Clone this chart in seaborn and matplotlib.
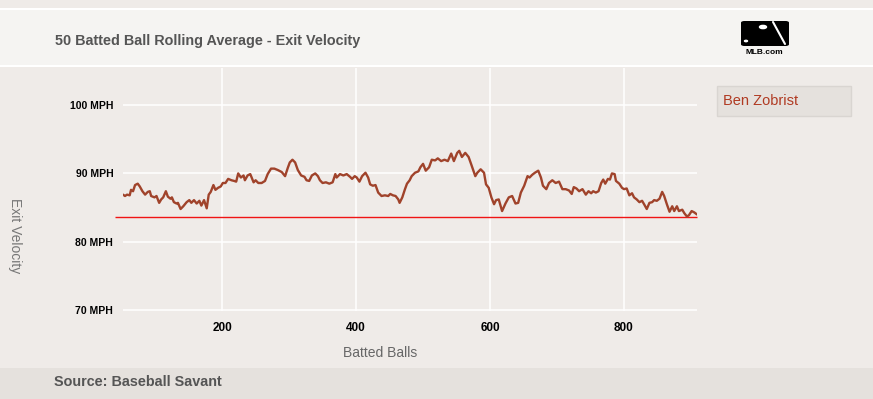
import pandas as pd
import matplotlib
matplotlib.use("Agg")
import matplotlib.pyplot as plt
import seaborn as sns
from matplotlib.patches import Rectangle, FancyBboxPatch, Circle
from matplotlib.lines import Line2D

# rolling 50 batted ball average
balls = [
    52, 55, 58, 62, 64, 67, 70, 74, 77, 81,
    85, 89, 92, 94, 99, 102, 106, 109, 112, 116,
    119, 123, 125, 128, 132, 134, 138, 142, 147, 151,
    154, 158, 162, 166, 169, 173, 177, 180, 183, 187,
    190, 194, 198, 201, 205, 209, 214, 218, 221, 224,
    228, 232, 234, 238, 242, 247, 250, 254, 259, 264,
    268, 273, 278, 283, 289, 294, 298, 301, 305, 309,
    313, 318, 323, 326, 330, 334, 339, 343, 346, 350,
    355, 360, 365, 369, 371, 376, 381, 386, 391, 394,
    398, 401, 405, 409, 414, 418, 421, 425, 429, 433,
    438, 443, 448, 451, 455, 459, 463, 465, 469, 473,
    476, 480, 483, 488, 493, 496, 500, 504, 509, 513,
    518, 522, 527, 532, 537, 542, 546, 551, 554, 558,
    563, 568, 572, 578, 581, 586, 591, 594, 598, 602,
    606, 609, 613, 618, 623, 628, 633, 638, 642, 646,
    651, 656, 659, 663, 667, 672, 676, 679, 684, 688,
    693, 698, 703, 708, 713, 718, 722, 725, 729, 733,
    738, 743, 747, 751, 754, 758, 762, 766, 769, 772,
    776, 779, 782, 786, 788, 793, 797, 800, 804, 808,
    812, 815, 819, 823, 827, 830, 834, 838, 842, 845,
    849, 853, 857, 860, 864, 868, 872, 875, 879, 882,
    887, 890, 894, 897, 901, 905, 909,
]
exit_velo = [
    86.9, 86.7, 86.9, 86.8, 87.6, 87.4, 88.3, 88.5, 88.1, 87.4,
    86.9, 87.3, 87.4, 86.7, 86.5, 86.7, 85.7, 86.2, 86.5, 87.4,
    86.6, 86.3, 86.5, 85.8, 85.6, 85.7, 84.8, 85.2, 85.8, 86.1,
    85.7, 86.1, 85.6, 86.0, 85.3, 86.1, 84.9, 86.9, 87.3, 88.3,
    87.6, 87.9, 88.1, 88.6, 88.6, 89.2, 89.0, 88.9, 88.8, 90.0,
    89.4, 89.7, 89.0, 89.7, 89.9, 88.7, 89.0, 88.6, 88.6, 88.9,
    89.9, 90.7, 90.7, 90.5, 90.2, 89.6, 90.8, 91.6, 92.0, 91.6,
    90.5, 89.7, 89.5, 89.0, 88.9, 89.7, 90.0, 89.6, 89.0, 88.6,
    88.7, 88.5, 88.7, 89.9, 89.4, 89.9, 89.7, 89.9, 89.5, 89.2,
    89.6, 89.4, 88.8, 89.6, 90.1, 89.4, 88.4, 88.2, 88.3, 87.2,
    86.7, 86.8, 86.7, 87.0, 86.8, 86.7, 86.2, 85.7, 86.5, 87.7,
    88.5, 89.0, 89.6, 90.1, 90.3, 90.9, 91.4, 90.4, 90.9, 92.0,
    91.9, 92.2, 91.8, 92.0, 91.8, 92.9, 91.8, 93.0, 93.3, 92.4,
    93.0, 92.4, 91.3, 89.6, 90.1, 90.6, 90.1, 88.4, 87.9, 86.5,
    85.5, 86.1, 86.2, 84.5, 85.6, 86.5, 86.7, 85.6, 85.7, 87.2,
    88.2, 89.6, 89.4, 89.8, 90.1, 90.4, 89.4, 88.2, 87.7, 88.6,
    89.0, 88.6, 88.8, 87.7, 87.7, 87.5, 87.0, 88.0, 87.8, 87.4,
    87.7, 86.9, 87.4, 87.1, 87.4, 87.2, 87.4, 88.6, 89.1, 88.5,
    89.2, 89.1, 90.0, 89.9, 88.9, 88.5, 87.9, 87.7, 87.8, 86.8,
    87.1, 86.5, 86.2, 85.8, 86.0, 85.5, 84.8, 85.7, 85.8, 86.1,
    86.0, 86.3, 87.3, 86.7, 85.5, 84.4, 85.2, 84.5, 85.2, 84.5,
    84.7, 84.2, 83.7, 83.9, 84.5, 84.3, 84.0,
]
league_avg = 83.6
player = "Ben Zobrist"
x_ticks = [200, 400, 600, 800]
y_ticks = [70, 80, 90, 100]
y_tick_labels = ["70 MPH", "80 MPH", "90 MPH", "100 MPH"]

sns.set_theme(style="white")
plt.rcParams["font.family"] = ["Liberation Sans", "DejaVu Sans"]

df = pd.DataFrame({"Batted Balls": balls, "Exit Velocity": exit_velo})

W, H = 873, 399
fig = plt.figure(figsize=(W / 100, H / 100), dpi=100)
fig.patch.set_facecolor("#efebe8")

# header and footer bands
fig.patches.append(Rectangle((-0.01, 1 - 66 / H), 1.02, 57 / H, transform=fig.transFigure,
                             facecolor="#f5f4f2", edgecolor="white", lw=1.5, zorder=0))
fig.patches.append(Rectangle((0, 0), 1, 31 / H, transform=fig.transFigure,
                             facecolor="#e5e1dd", edgecolor="none", zorder=0))

ax = fig.add_axes([123 / W, 1 - 311 / H, (697 - 123) / W, (311 - 68) / H])
ax.set_facecolor("#efebe8")

sns.lineplot(data=df, x="Batted Balls", y="Exit Velocity", ax=ax,
             color="#a0432b", lw=1.7, zorder=3)
ax.hlines(league_avg, 40, 909, colors="#f01414", lw=1.0, clip_on=False, zorder=2)

ax.set_xlim(52, 909)
ax.set_ylim(69.9, 105.4)
ax.set_xticks(x_ticks)
ax.set_yticks(y_ticks, y_tick_labels)
ax.grid(True, color="white", lw=1.1)
ax.set_axisbelow(True)
for s in ax.spines.values():
    s.set_visible(False)
ax.tick_params(axis="both", length=0)
ax.tick_params(axis="y", pad=7, labelsize=7.5, labelcolor="black")
ax.tick_params(axis="x", pad=8, labelsize=8.5, labelcolor="black")
for lab in ax.get_xticklabels() + ax.get_yticklabels():
    lab.set_fontweight("bold")
ax.set_xlabel("")
ax.set_ylabel("")

fig.text(380 / W, 1 - 353 / H, "Batted Balls", ha="center", va="center",
         fontsize=10, color="#666666")
fig.text(15 / W, 1 - 236 / H, "Exit Velocity", ha="center", va="center",
         rotation=-90, fontsize=10, color="#777777")

fig.text(55 / W, 1 - 41 / H, "50 Batted Ball Rolling Average - Exit Velocity",
         ha="left", va="center", fontsize=10.4, fontweight="bold", color="#555555")
fig.text(54 / W, 1 - 382 / H, "Source: Baseball Savant",
         ha="left", va="center", fontsize=10.4, fontweight="bold", color="#555555")

# legend box
fig.patches.append(Rectangle((717 / W, 1 - 116 / H), 134 / W, 30 / H, transform=fig.transFigure,
                             facecolor="#e5e1dd", edgecolor="#d9d5d1", lw=1, zorder=1))
fig.text(723 / W, 1 - 101 / H, player, ha="left", va="center",
         fontsize=10.5, color="#b03a22")

# MLB logo
fig.patches.append(FancyBboxPatch((741 / W, 1 - 46 / H), 48 / W, 25 / H,
                                  boxstyle="round,pad=0,rounding_size=0.004",
                                  transform=fig.transFigure, facecolor="black",
                                  edgecolor="none", zorder=2))
fig.patches.append(Circle((763 / W, 1 - 27 / H), 3.5 / W, transform=fig.transFigure,
                          facecolor="white", zorder=3))
fig.lines.append(Line2D([773 / W, 785 / W], [1 - 22 / H, 1 - 44 / H], transform=fig.transFigure,
                        color="white", lw=1.5, zorder=3))
fig.patches.append(Circle((746 / W, 1 - 41 / H), 1.5 / W, transform=fig.transFigure,
                          facecolor="white", zorder=3))
fig.text(764 / W, 1 - 53 / H, "MLB.com", ha="center", va="center",
         fontsize=6, fontweight="bold", color="black")

fig.savefig("out.png", dpi=100, facecolor=fig.get_facecolor())
